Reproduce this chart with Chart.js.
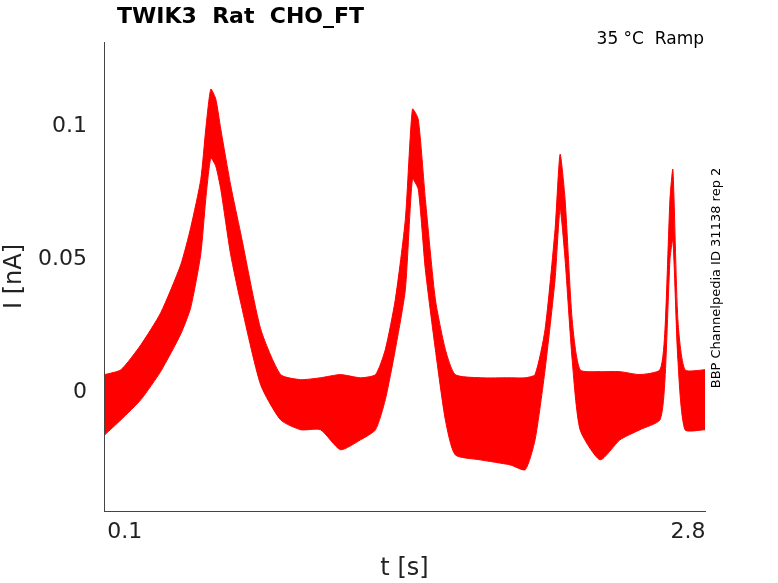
<!DOCTYPE html>
<html>
<head>
<meta charset="utf-8">
<script src="https://cdn.jsdelivr.net/npm/chart.js@4.4.1/dist/chart.umd.min.js"></script>
<style>
  body { margin: 0; background: #fff; }
  #wrap { width: 778px; height: 583px; }
</style>
</head>
<body>
<div id="wrap"><canvas id="traceChart"></canvas></div>
<script>
const times = [0.004, 0.081, 0.177, 0.272, 0.368, 0.416, 0.464, 0.488, 0.512, 0.536,
    0.560, 0.607, 0.655, 0.751, 0.847, 0.943, 1.038, 1.134, 1.230, 1.302,
    1.349, 1.397, 1.445, 1.479, 1.507, 1.541, 1.589, 1.637, 1.684, 1.804,
    1.948, 2.020, 2.067, 2.115, 2.163, 2.187, 2.211, 2.245, 2.283, 2.379,
    2.474, 2.570, 2.666, 2.690, 2.714, 2.728, 2.752, 2.786, 2.882];
const upper = [0.0068, 0.0086, 0.0180, 0.0300, 0.0480, 0.0620, 0.0800, 0.0989, 0.1139, 0.1102,
    0.0989, 0.0780, 0.0600, 0.0240, 0.0068, 0.0049, 0.0056, 0.0068, 0.0056, 0.0068,
    0.0162, 0.0350, 0.0650, 0.1064, 0.1026, 0.0726, 0.0350, 0.0162, 0.0068, 0.0056,
    0.0056, 0.0056, 0.0068, 0.0237, 0.0613, 0.0895, 0.0726, 0.0274, 0.0086, 0.0079,
    0.0079, 0.0068, 0.0086, 0.0237, 0.0726, 0.0838, 0.0274, 0.0086, 0.0086];
const lower = [-0.0158, -0.0102, -0.0026, 0.0080, 0.0220, 0.0320, 0.0520, 0.0726, 0.0880, 0.0850,
    0.0763, 0.0520, 0.0340, 0.0030, -0.0102, -0.0139, -0.0139, -0.0214, -0.0177, -0.0139,
    -0.0026, 0.0162, 0.0387, 0.0801, 0.0763, 0.0462, 0.0162, -0.0102, -0.0233, -0.0252,
    -0.0271, -0.0289, -0.0177, 0.0086, 0.0425, 0.0688, 0.0500, 0.0124, -0.0139, -0.0252,
    -0.0177, -0.0139, -0.0102, 0.0049, 0.0500, 0.0575, 0.0124, -0.0139, -0.0139];
const xTicks = [0.1, 2.8];
const yTicks = [0, 0.05, 0.1];

const font = 'DejaVu Sans';

const textPlugin = {
    id: 'extraText',
    afterDraw(chart) {
        const c = chart.ctx;
        c.save();
        c.fillStyle = '#000';
        c.font = 'bold 22px ' + font;
        c.textBaseline = 'top';
        c.fillText('TWIK3  Rat  CHO_FT', 117, 6);
        c.font = '17px ' + font;
        c.textAlign = 'right';
        c.fillText('35 °C  Ramp', 704, 31);
        c.translate(717, 278);
        c.rotate(-Math.PI / 2);
        c.textAlign = 'center';
        c.textBaseline = 'middle';
        c.font = '13px ' + font;
        c.fillText('BBP Channelpedia ID 31138 rep 2', 0, 0);
        c.restore();
    }
};

new Chart(document.getElementById('traceChart'), {
    type: 'line',
    data: {
        datasets: [
            {
                data: times.map((t, i) => ({ x: t, y: lower[i] })),
                borderColor: '#ff0000', borderWidth: 1, pointRadius: 0, fill: false, tension: 0.2
            },
            {
                data: times.map((t, i) => ({ x: t, y: upper[i] })),
                borderColor: '#ff0000', borderWidth: 1, pointRadius: 0, tension: 0.2,
                backgroundColor: '#ff0000', fill: '-1'
            }
        ]
    },
    options: {
        animation: false,
        responsive: true,
        maintainAspectRatio: false,
        layout: { padding: { left: 0, right: 73, top: 42, bottom: 0 } },
        plugins: { legend: { display: false }, tooltip: { enabled: false } },
        scales: {
            x: {
                type: 'linear', min: 0, max: 2.882,
                grid: { display: false, drawTicks: false },
                border: { color: '#444' },
                afterBuildTicks: s => { s.ticks = xTicks.map(v => ({ value: v })); },
                afterFit: s => { s.height = 72; },
                ticks: { color: '#222', font: { family: font, size: 22 }, padding: 8, callback: v => String(v) },
                title: { display: true, text: 't [s]', color: '#222', font: { family: font, size: 24 }, padding: 0 }
            },
            y: {
                min: -0.0444, max: 0.1316,
                grid: { display: false, drawTicks: false },
                border: { color: '#444' },
                afterBuildTicks: s => { s.ticks = yTicks.map(v => ({ value: v })); },
                afterFit: s => { s.width = 104; },
                ticks: { color: '#222', font: { family: font, size: 22 }, padding: 17, callback: v => String(v) },
                title: { display: true, text: 'I [nA]', color: '#222', font: { family: font, size: 24 }, padding: 0 }
            }
        }
    },
    plugins: [textPlugin]
});
</script>
</body>
</html>
